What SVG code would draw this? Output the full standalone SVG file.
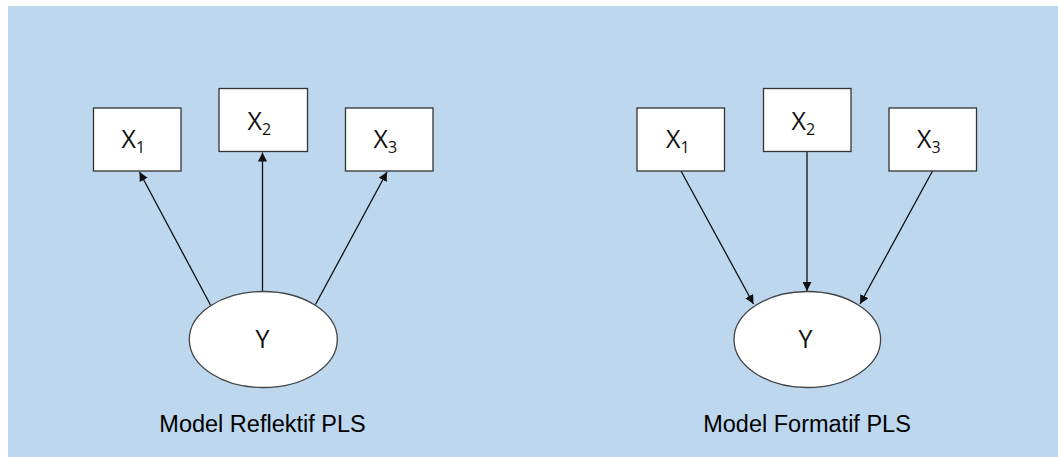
<svg xmlns="http://www.w3.org/2000/svg" width="1058" height="457" viewBox="0 0 1058 457">
<defs>
<style>
.bg{fill:#BDD7EE}
.box{fill:#fff;stroke:#333;stroke-width:1.3}
.ell{fill:#fff;stroke:#444;stroke-width:1.3}
.lbl{font-family:"Open Sans","Liberation Sans",sans-serif;font-size:25px;fill:#111}
.sub{font-size:16px}
.cap{font-family:"Liberation Sans",Arial,sans-serif;font-size:23.5px;fill:#000;text-anchor:middle}
.con{stroke:#111;stroke-width:1.3;fill:none;marker-end:url(#ah)}
</style>
<marker id="ah" viewBox="0 0 10 10" refX="10" refY="5" markerWidth="9" markerHeight="9" markerUnits="userSpaceOnUse" orient="auto">
<path d="M0,0 L10,5 L0,10 Z" fill="#111"/>
</marker>
</defs>
<rect x="0" y="0" width="1058" height="457" fill="#fff"/>
<rect class="bg" x="8" y="6" width="1050" height="451"/>

<g id="connectors">
<line class="con" x1="210.5" y1="305" x2="139.5" y2="172"/>
<line class="con" x1="262.5" y1="291.5" x2="262.5" y2="152.5"/>
<line class="con" x1="315.5" y1="304.5" x2="387" y2="172"/>
<line class="con" x1="681" y1="171" x2="753.5" y2="304"/>
<line class="con" x1="807" y1="152" x2="807" y2="291"/>
<line class="con" x1="932.5" y1="171" x2="860" y2="304"/>
</g>

<g id="left-x1"><rect class="box" x="93.5" y="108" width="87.5" height="63"/><text class="lbl" x="121.5" y="148">X<tspan class="sub" dy="5">1</tspan></text></g>
<g id="left-x2"><rect class="box" x="219" y="88.5" width="88.5" height="63"/><text class="lbl" x="247.5" y="129.5">X<tspan class="sub" dy="5">2</tspan></text></g>
<g id="left-x3"><rect class="box" x="345.5" y="108" width="87.5" height="63"/><text class="lbl" x="373.5" y="148">X<tspan class="sub" dy="5">3</tspan></text></g>
<g id="left-y"><ellipse class="ell" cx="263.3" cy="339.5" rx="74" ry="48"/><text class="lbl" x="262.5" y="347.5" text-anchor="middle">Y</text></g>
<g id="left-caption"><text class="cap" x="262.5" y="432">Model Reflektif PLS</text></g>

<g id="right-x1"><rect class="box" x="637" y="108" width="87.5" height="63"/><text class="lbl" x="666" y="148">X<tspan class="sub" dy="5">1</tspan></text></g>
<g id="right-x2"><rect class="box" x="763.5" y="88.5" width="87.5" height="63"/><text class="lbl" x="791.5" y="129.5">X<tspan class="sub" dy="5">2</tspan></text></g>
<g id="right-x3"><rect class="box" x="889" y="108" width="87.5" height="63"/><text class="lbl" x="917" y="148">X<tspan class="sub" dy="5">3</tspan></text></g>
<g id="right-y"><ellipse class="ell" cx="807.3" cy="339.5" rx="73.3" ry="48"/><text class="lbl" x="805.5" y="347.5" text-anchor="middle">Y</text></g>
<g id="right-caption"><text class="cap" x="807" y="432">Model Formatif PLS</text></g>
</svg>
